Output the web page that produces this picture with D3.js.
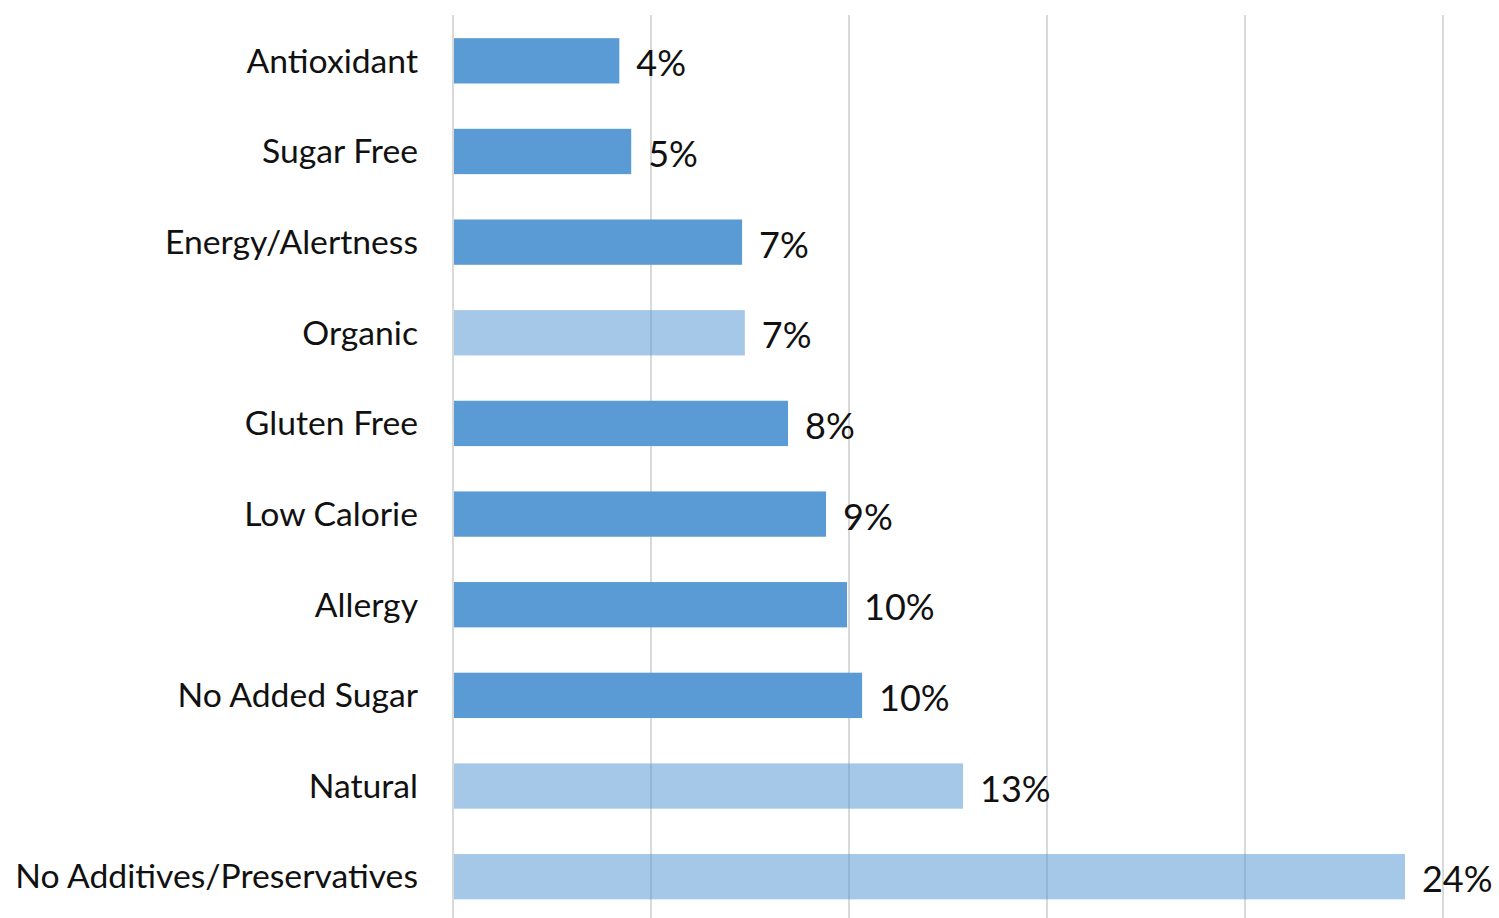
<!DOCTYPE html>
<html><head><meta charset="utf-8">
<script src="https://cdn.jsdelivr.net/npm/d3@7/dist/d3.min.js"></script>
<style>body{margin:0;background:#fff;}svg{display:block;}</style>
</head><body>
<svg id="c" width="1499" height="918"></svg>
<script>
const categories = ["Antioxidant","Sugar Free","Energy/Alertness","Organic","Gluten Free","Low Calorie","Allergy","No Added Sugar","Natural","No Additives/Preservatives"];
const values = [4.2, 4.5, 7.3, 7.37, 8.46, 9.42, 9.95, 10.33, 12.88, 24.04];
const valueLabels = ["4%","5%","7%","7%","8%","9%","10%","10%","13%","24%"];
const highlighted = ["Organic","Natural","No Additives/Preservatives"];
const ticks = [0,5,10,15,20,25];

const svg = d3.select("#c");
const x = d3.scaleLinear().domain([0,25]).range([453,1443]);
const y = d3.scaleBand().domain(categories).range([15.5,922]).paddingInner(0.5).paddingOuter(0.25);
const font = "Lato, 'Open Sans', sans-serif";

svg.append("g").selectAll("line").data(ticks).join("line")
  .attr("x1", d=>x(d)).attr("x2", d=>x(d)).attr("y1", 15).attr("y2", 918)
  .attr("stroke", "#d9d9d9").attr("stroke-width", 2);

const data = categories.map((c,i)=>({c, v:values[i], l:valueLabels[i]}));

svg.append("g").selectAll("rect").data(data).join("rect")
  .attr("x", x(0)+1).attr("y", d=>y(d.c))
  .attr("width", d=>x(d.v)-x(0)-1).attr("height", y.bandwidth())
  .attr("fill", "#5b9bd5")
  .attr("fill-opacity", d=>highlighted.includes(d.c)?0.55:1);

svg.append("g").selectAll("text").data(data).join("text")
  .attr("x", 418).attr("y", d=>y(d.c)+y.bandwidth()/2)
  .attr("dy","0.35em").attr("text-anchor","end")
  .attr("font-family", font).attr("font-size", 33.7).attr("fill","#111")
  .text(d=>d.c);

svg.append("g").selectAll("text").data(data).join("text")
  .attr("x", d=>x(d.v)+17).attr("y", d=>y(d.c)+y.bandwidth()/2+3)
  .attr("dy","0.35em").attr("text-anchor","start")
  .attr("font-family", font).attr("font-size", 36).attr("fill","#111")
  .text(d=>d.l);
</script>
</body></html>
